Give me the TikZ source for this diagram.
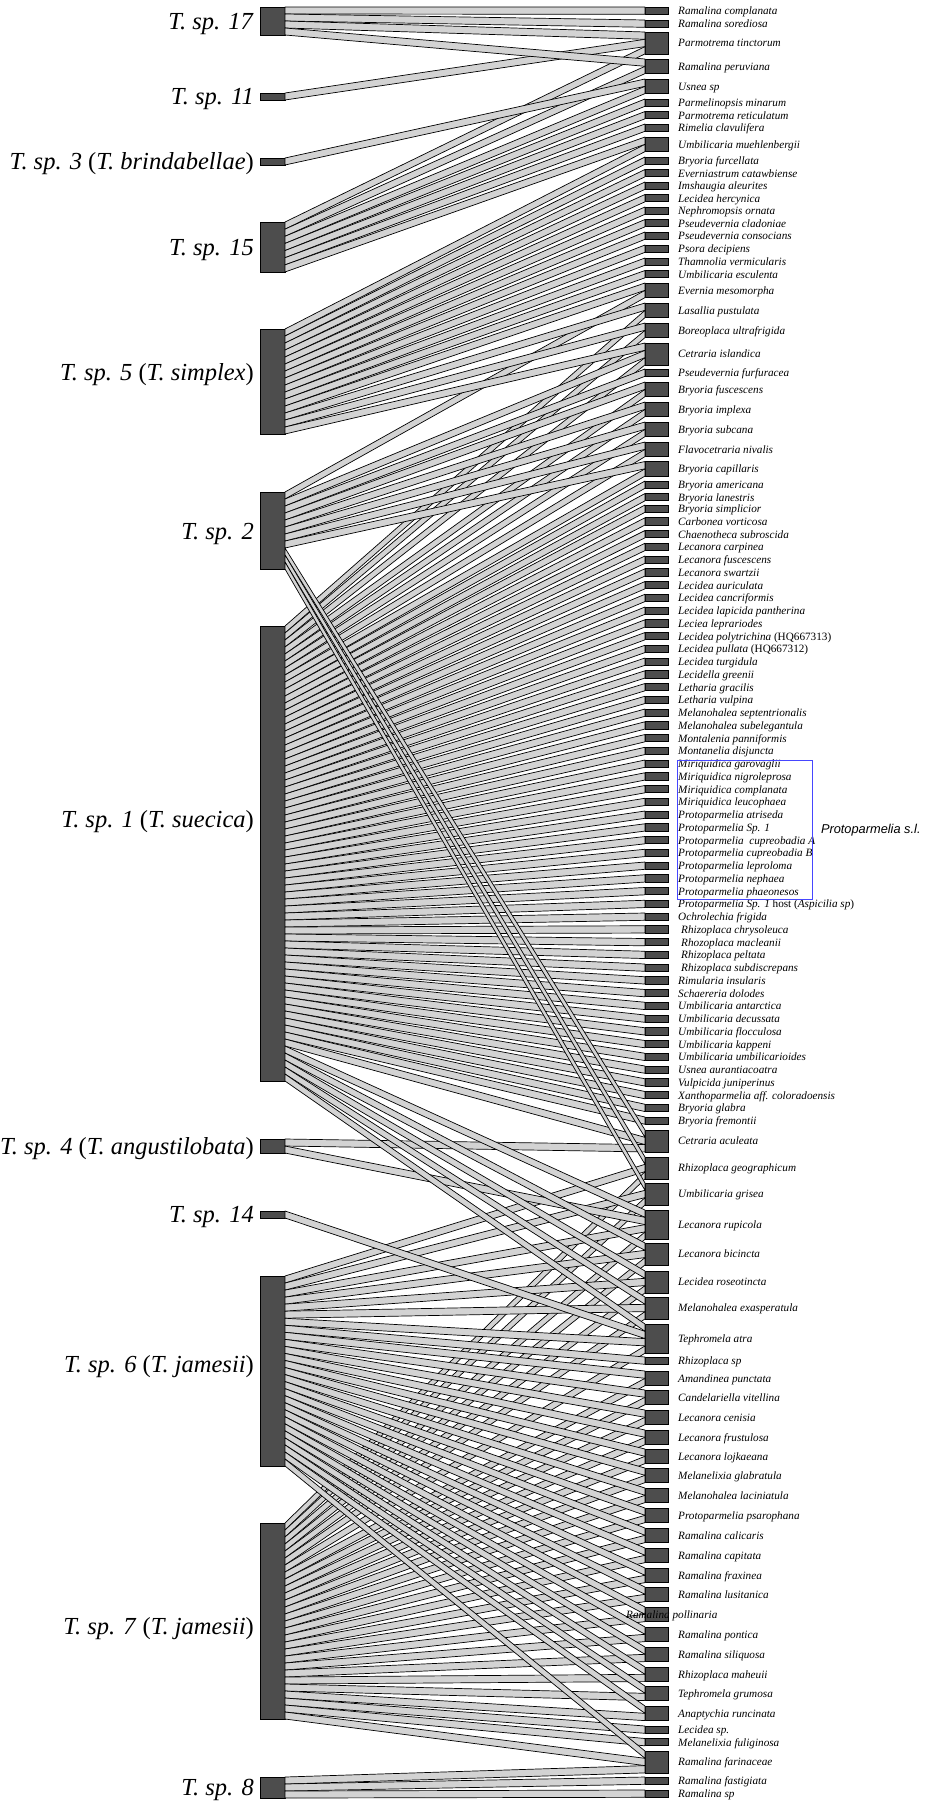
\documentclass[tikz,border=0pt]{standalone}
\usepackage{fontspec}
\setmainfont{Liberation Serif}
\newfontfamily\slsans{Liberation Sans}
\usetikzlibrary{calc,positioning}
\definecolor{barfill}{HTML}{4D4D4D}
\definecolor{bandfill}{HTML}{D3D3D3}
\definecolor{boxblue}{HTML}{4646FF}
\newcommand\slotht{7.3}
\tikzset{
  host bar/.style={draw, fill=barfill, line width=0.7pt, minimum width=25pt, inner sep=0pt, outer sep=0pt, anchor=north west},
  lichen bar/.style={draw, fill=barfill, line width=0.7pt, minimum width=23pt, inner sep=0pt, outer sep=0pt, anchor=north west},
  band/.style={draw, fill=bandfill, line width=0.7pt, line join=round},
  host label/.style={anchor=base east, inner sep=0pt, font=\fontsize{24.5}{27}\selectfont},
  lichen label/.style={anchor=base west, inner sep=0pt, font=\fontsize{11.2}{13}\selectfont\itshape},
  group box/.style={draw=boxblue, line width=0.8pt, inner sep=0pt, anchor=north west},
}

\begin{document}
\begin{tikzpicture}[x=1pt, y=-1pt]
  \useasboundingbox (0,0) rectangle (925,1802);
  % photobionts
  \foreach \hname/\ytop/\ybot/\n/\ly/\htext in {
    sp17/7/35/4/21.5/\textit{T. sp. 17},
    sp11/93/100/1/96.5/\textit{T. sp. 11},
    sp3/158/165/1/161.5/\textit{T. sp. 3} (\textit{T. brindabellae}),
    sp15/222/272/7/247/\textit{T. sp. 15},
    sp5/329/434/15/372/\textit{T. sp. 5} (\textit{T. simplex}),
    sp2/492/569/11/531/\textit{T. sp. 2},
    sp1/626/1081/65/819/\textit{T. sp. 1} (\textit{T. suecica}),
    sp4/1139/1153/2/1146/\textit{T. sp. 4} (\textit{T. angustilobata}),
    sp14/1211/1218/1/1214.5/\textit{T. sp. 14},
    sp6/1276/1466/27/1364/\textit{T. sp. 6} (\textit{T. jamesii}),
    sp7/1523/1719/28/1626/\textit{T. sp. 7} (\textit{T. jamesii}),
    sp8/1777/1798/3/1787/\textit{T. sp. 8}}{
    \pgfmathsetmacro\hgt{\ybot-\ytop}
    \pgfmathsetmacro\hh{\hgt/\n}
    \node[host bar, minimum height=\hgt pt] (\hname) at (260,\ytop) {};
    \node[host label] (l\hname) at (254,\ly+8) {\htext};
    \expandafter\xdef\csname hl\hname\endcsname{\hh}
    \expandafter\xdef\csname nl\hname\endcsname{0}
  }
  % mycobionts
  \foreach \i/\ytop/\n/\lab in {
    1/7/1/Ramalina complanata,
    2/20/1/Ramalina sorediosa,
    3/32/3/Parmotrema tinctorum,
    4/59/2/Ramalina peruviana,
    5/79/2/Usnea sp,
    6/99/1/Parmelinopsis minarum,
    7/111.5/1/Parmotrema reticulatum,
    8/124/1/Rimelia clavulifera,
    9/137/2/Umbilicaria muehlenbergii,
    10/157/1/Bryoria furcellata,
    11/169.5/1/Everniastrum catawbiense,
    12/182/1/Imshaugia aleurites,
    13/194.5/1/Lecidea hercynica,
    14/207/1/Nephromopsis ornata,
    15/219.5/1/Pseudevernia cladoniae,
    16/232/1/Pseudevernia consocians,
    17/245/1/Psora decipiens,
    18/258/1/Thamnolia vermicularis,
    19/270.5/1/Umbilicaria esculenta,
    20/283/2/Evernia mesomorpha,
    21/303/2/Lasallia pustulata,
    22/323/2/Boreoplaca ultrafrigida,
    23/343/3/Cetraria islandica,
    24/369/1/Pseudevernia furfuracea,
    25/382/2/Bryoria fuscescens,
    26/402/2/Bryoria implexa,
    27/422/2/Bryoria subcana,
    28/442/2/Flavocetraria nivalis,
    29/461.5/2/Bryoria capillaris,
    30/481/1/Bryoria americana,
    31/493.5/1/Bryoria lanestris,
    32/505/1/Bryoria simplicior,
    33/517.75/1/Carbonea vorticosa,
    34/530.5/1/Chaenotheca subroscida,
    35/543.25/1/Lecanora carpinea,
    36/556/1/Lecanora fuscescens,
    37/568.75/1/Lecanora swartzii,
    38/581.5/1/Lecidea auriculata,
    39/594.25/1/Lecidea cancriformis,
    40/607/1/Lecidea lapicida pantherina,
    41/619.75/1/Leciea leprariodes,
    42/632.5/1/Lecidea polytrichina \textup{(HQ667313)},
    43/645.25/1/Lecidea pullata \textup{(HQ667312)},
    44/658/1/Lecidea turgidula,
    45/670.75/1/Lecidella greenii,
    46/683.5/1/Letharia gracilis,
    47/696.25/1/Letharia vulpina,
    48/709/1/Melanohalea septentrionalis,
    49/721.75/1/Melanohalea subelegantula,
    50/734.5/1/Montalenia panniformis,
    51/747.25/1/Montanelia disjuncta,
    52/760/1/Miriquidica garovaglii,
    53/772.75/1/Miriquidica nigroleprosa,
    54/785.5/1/Miriquidica complanata,
    55/798.25/1/Miriquidica leucophaea,
    56/811/1/Protoparmelia atriseda,
    57/823.75/1/Protoparmelia Sp. 1,
    58/836.5/1/Protoparmelia\ \ cupreobadia A,
    59/849.25/1/Protoparmelia cupreobadia B,
    60/862/1/Protoparmelia leproloma,
    61/874.75/1/Protoparmelia nephaea,
    62/887.5/1/Protoparmelia phaeonesos,
    63/900.25/1/Protoparmelia Sp. 1 \textup{host (}Aspicilia sp\textup{)},
    64/913/1/Ochrolechia frigida,
    65/925.75/1/\hspace{3pt}Rhizoplaca chrysoleuca,
    66/938.5/1/\hspace{3pt}Rhozoplaca macleanii,
    67/951.25/1/\hspace{3pt}Rhizoplaca peltata,
    68/964/1/\hspace{3pt}Rhizoplaca subdiscrepans,
    69/976.75/1/Rimularia insularis,
    70/989.5/1/Schaereria dolodes,
    71/1002.25/1/Umbilicaria antarctica,
    72/1015/1/Umbilicaria decussata,
    73/1027.75/1/Umbilicaria flocculosa,
    74/1040.5/1/Umbilicaria kappeni,
    75/1053.25/1/Umbilicaria umbilicarioides,
    76/1066/1/Usnea aurantiacoatra,
    77/1078.75/1/Vulpicida juniperinus,
    78/1091.5/1/Xanthoparmelia aff. coloradoensis,
    79/1104.25/1/Bryoria glabra,
    80/1117/1/Bryoria fremontii,
    81/1130/3/Cetraria aculeata,
    82/1157/3/Rhizoplaca geographicum,
    83/1183/3/Umbilicaria grisea,
    84/1210/4/Lecanora rupicola,
    85/1243/3/Lecanora bicincta,
    86/1271/3/Lecidea roseotincta,
    87/1297/3/Melanohalea exasperatula,
    88/1324/4/Tephromela atra,
    89/1357/1/Rhizoplaca sp,
    90/1371/2/Amandinea punctata,
    91/1390/2/Candelariella vitellina,
    92/1410/2/Lecanora cenisia,
    93/1430/2/Lecanora frustulosa,
    94/1449/2/Lecanora lojkaeana,
    95/1468/2/Melanelixia glabratula,
    96/1488/2/Melanohalea laciniatula,
    97/1508/2/Protoparmelia psarophana,
    98/1528/2/Ramalina calicaris,
    99/1548/2/Ramalina capitata,
    100/1568/2/Ramalina fraxinea,
    101/1587/2/Ramalina lusitanica,
    102/1607/2/{},
    103/1627/2/Ramalina pontica,
    104/1647/2/Ramalina siliquosa,
    105/1667/2/Rhizoplaca maheuii,
    106/1686/2/Tephromela grumosa,
    107/1706/2/Anaptychia runcinata,
    108/1726/1/Lecidea sp.,
    109/1738.5/1/Melanelixia fuliginosa,
    110/1751/3/Ramalina farinaceae,
    111/1777/1/Ramalina fastigiata,
    112/1790/1/Ramalina sp}{
    \pgfmathsetmacro\hgt{\n*\slotht}
    \node[lichen bar, minimum height=\hgt pt] (r\i) at (645,\ytop) {};
    \node[lichen label] (t\i) at ($(r\i.east)+(10,4)$) {\lab};
    \expandafter\xdef\csname nr\i\endcsname{0}
  }
  % associations: slots first, in host order
  \foreach \src/\tl in {
    sp17/{1,2,3,4},
    sp11/{3},
    sp3/{5},
    sp15/{3,...,9},
    sp5/{9,...,23},
    sp2/{20,23,24,...,29,81,82,83},
    sp1/{21,22,23,25,26,...,81,84,85,86,87,88},
    sp4/{81,84},
    sp14/{88},
    sp6/{82,...,107,110},
    sp7/{82,...,88,90,91,...,110},
    sp8/{110,111,112}}{
    \expandafter\xdef\csname tl\src\endcsname{\tl}
    \foreach \tgt in \tl {
      \edef\ka{\csname nl\src\endcsname}
      \edef\kb{\csname nr\tgt\endcsname}
      \expandafter\xdef\csname a\src-\tgt\endcsname{\ka}
      \expandafter\xdef\csname b\src-\tgt\endcsname{\kb}
      \pgfmathtruncatemacro\na{\ka+1}
      \expandafter\xdef\csname nl\src\endcsname{\na}
      \pgfmathtruncatemacro\nb{\kb+1}
      \expandafter\xdef\csname nr\tgt\endcsname{\nb}
    }
  }
  % then the bands, upper hosts on top
  \foreach \src in {sp8,sp7,sp6,sp14,sp4,sp1,sp2,sp5,sp15,sp3,sp11,sp17}{
    \edef\tl{\csname tl\src\endcsname}
    \foreach \tgt in \tl {
      \edef\ka{\csname a\src-\tgt\endcsname}
      \edef\kb{\csname b\src-\tgt\endcsname}
      \edef\hs{\csname hl\src\endcsname}
      \draw[band] ($(\src.north east)+(0,\ka*\hs)$) -- ($(r\tgt.north west)+(0,\kb*\slotht)$)
        -- ($(r\tgt.north west)+(0,\kb*\slotht+\slotht)$) -- ($(\src.north east)+(0,\ka*\hs+\hs)$) -- cycle;
    }
  }
  \node[lichen label] (t102b) at ($(r102.west)+(-19,4)$) {Ramalina pollinaria};
  \node[group box, minimum width=135pt, minimum height=139pt] (slbox) at (677,760) {};
  \node[right=8pt of slbox, inner sep=0pt, font=\slsans\itshape\fontsize{12.8}{15}\selectfont] (sllab) {Protoparmelia s.l.};
\end{tikzpicture}
\end{document}
